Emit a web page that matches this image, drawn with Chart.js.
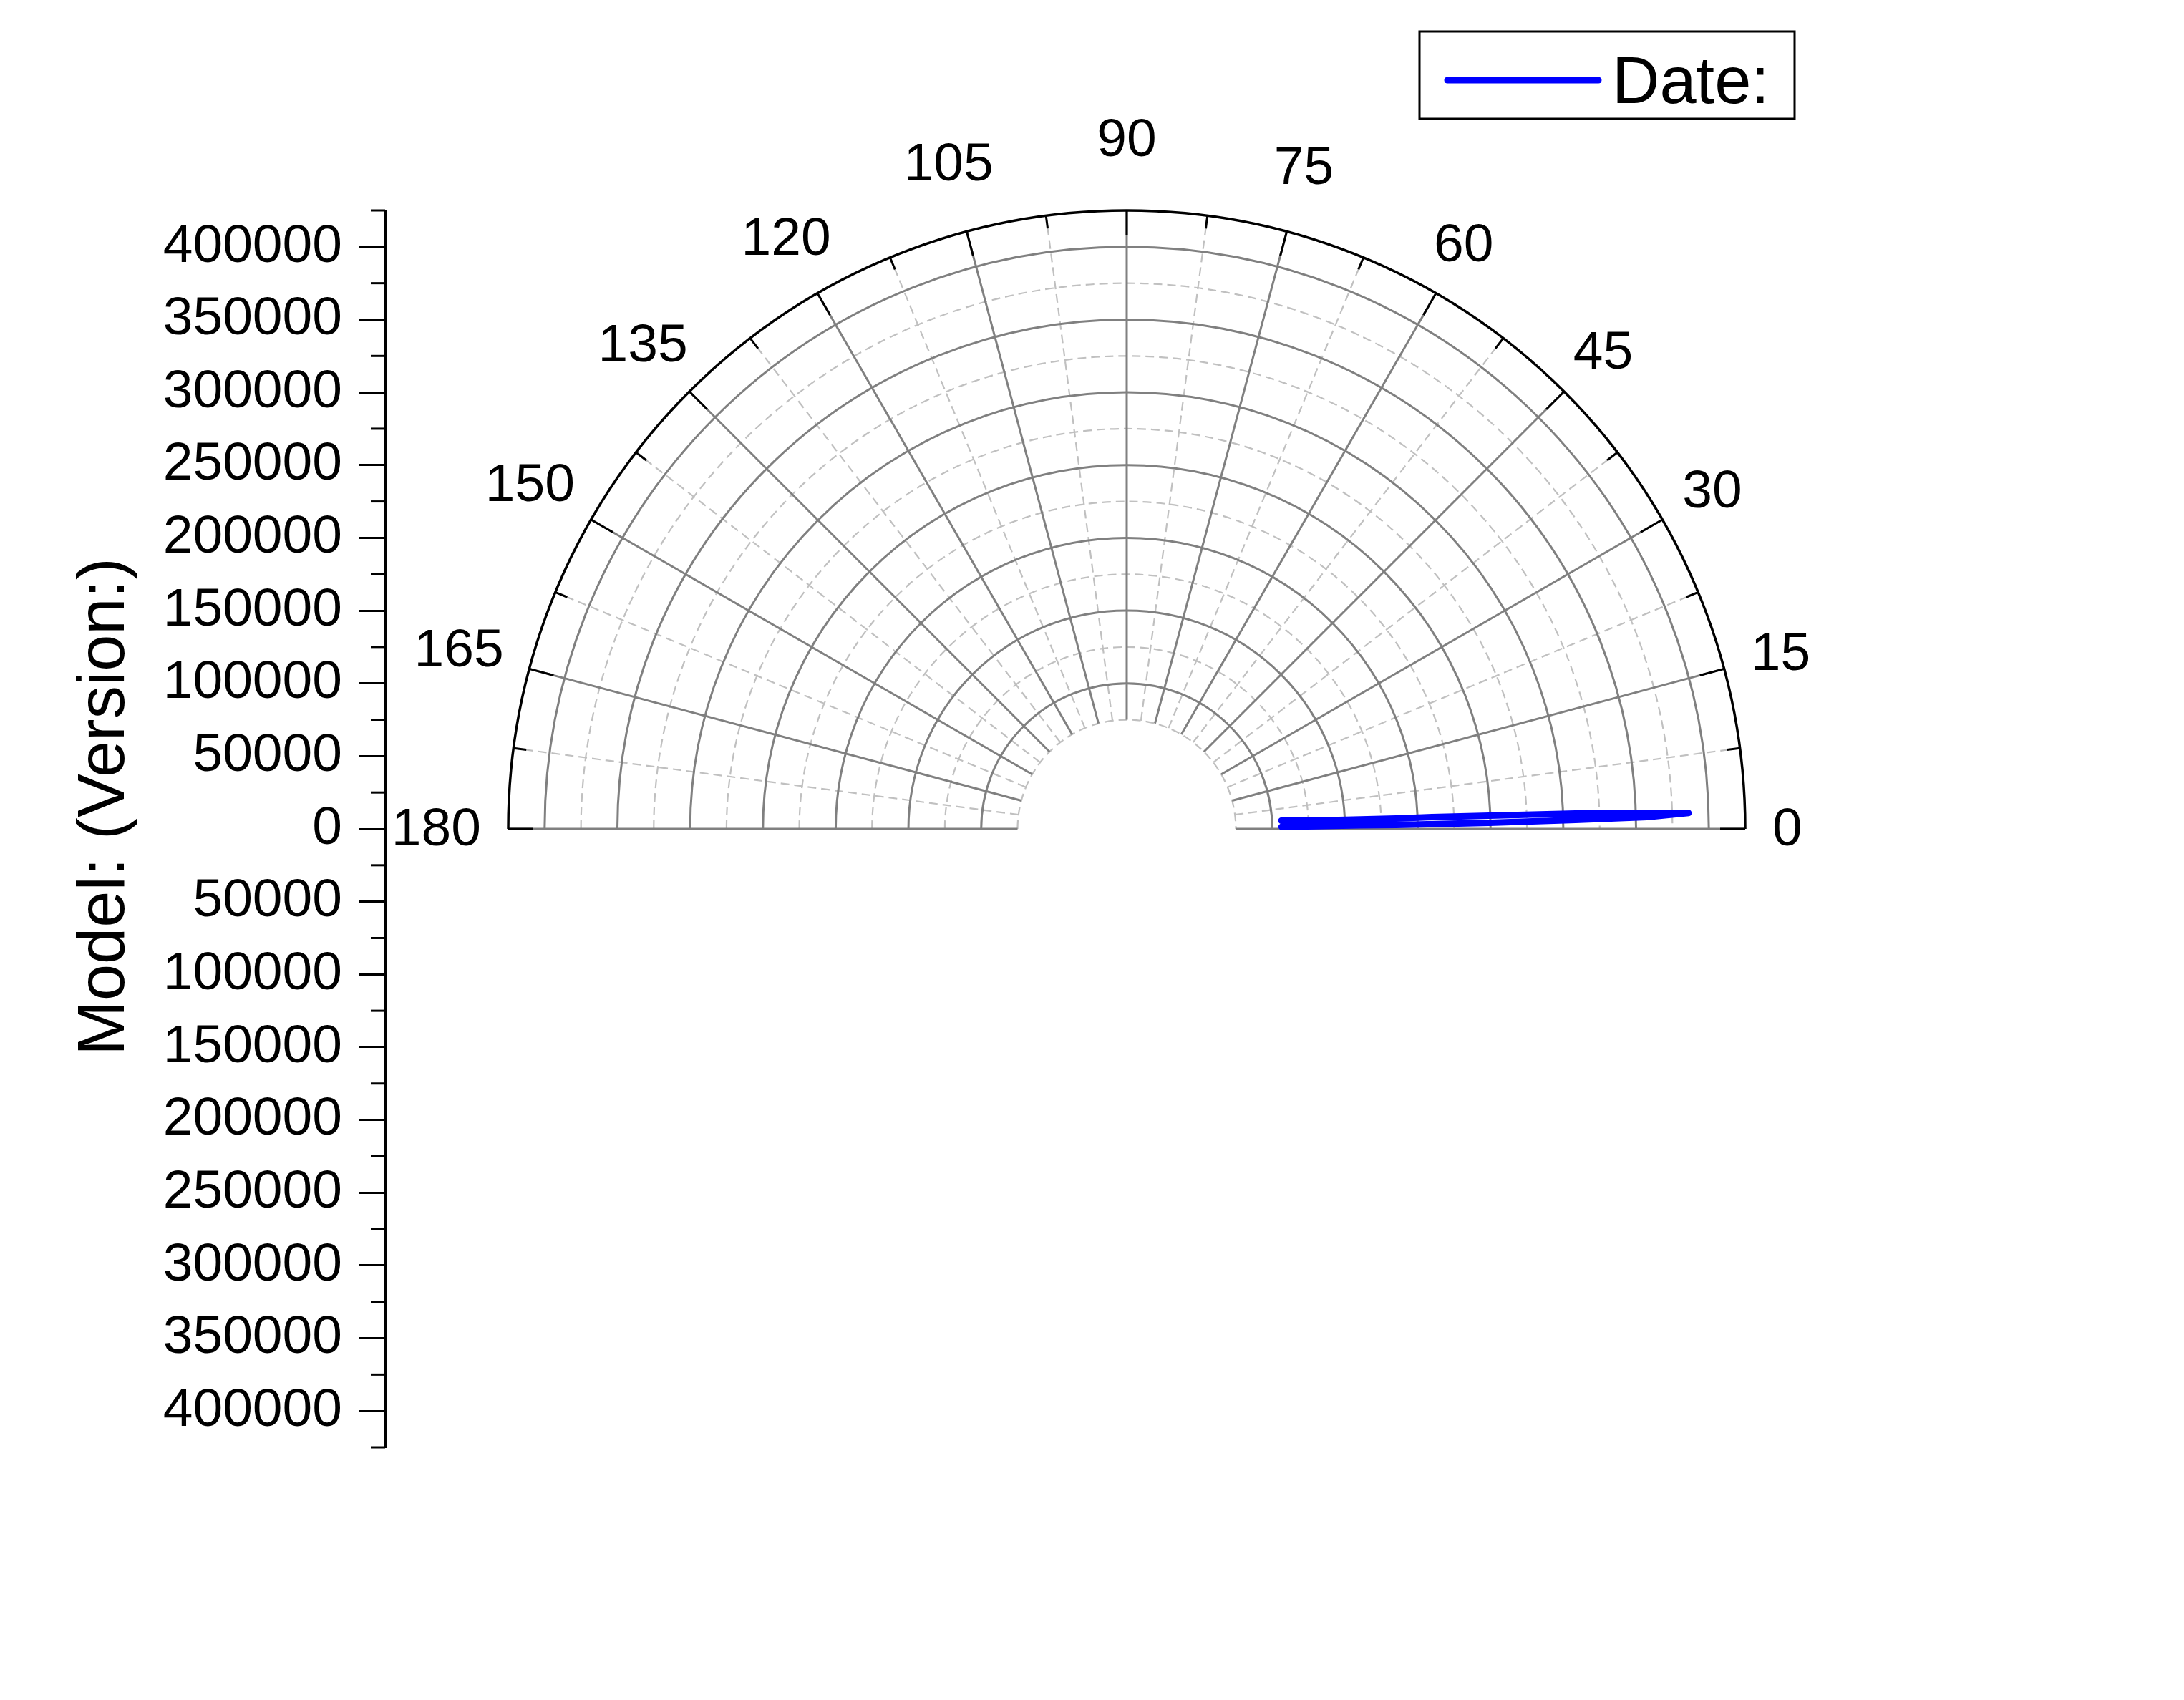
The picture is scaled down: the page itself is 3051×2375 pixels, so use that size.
<!DOCTYPE html>
<html>
<head>
<meta charset="utf-8">
<script src="https://cdn.jsdelivr.net/npm/chart.js@4.4.1/dist/chart.umd.min.js"></script>
<style>
html,body{margin:0;padding:0;background:#fff;}
#wrap{width:3051px;height:2375px;position:relative;}
</style>
</head>
<body>
<div id="wrap"><canvas id="c" width="3051" height="2375"></canvas></div>
<script>
// ---------------- data ----------------
const seriesName = 'Date:';
const yAxisTitle = 'Model: (Version:)';
// polar series: angle (degrees) and radius, in drawing order (out along upper strand, back along lower)
const sweepAngleDeg = [3.05, 2.49, 2.21, 2.22, 2.09, 1.97, 1.78, 1.63, 1.30, 1.14, 0.96, 0.84, 0.88, 0.83, 0.76];
const sweepRadius   = [106400, 136000, 185200, 209900, 249300, 308400, 357600, 386200, 357600, 308400, 249300, 185200, 160600, 136000, 106400];
// angular axis
const angleTicks = [0, 15, 30, 45, 60, 75, 90, 105, 120, 135, 150, 165, 180];
const angleMinorTicks = [7.5, 22.5, 37.5, 52.5, 67.5, 82.5, 97.5, 112.5, 127.5, 142.5, 157.5, 172.5];
// radial axis
const radialInner = 75000;
const radialOuter = 425000;
const radialMajor = [100000, 150000, 200000, 250000, 300000, 350000, 400000];
const radialMinor = [75000, 125000, 175000, 225000, 275000, 325000, 375000];
// left (vertical) axis ticks
const yTicks = [-400000, -350000, -300000, -250000, -200000, -150000, -100000, -50000, 0,
                50000, 100000, 150000, 200000, 250000, 300000, 350000, 400000];
const yMinorTicks = [-425000, -375000, -325000, -275000, -225000, -175000, -125000, -75000, -25000,
                     25000, 75000, 125000, 175000, 225000, 275000, 325000, 375000, 425000];

// ---------------- layout constants ----------------
const FONT = '"Liberation Sans", Arial, sans-serif';
const PAD = { left: 0, top: 294, right: 613, bottom: 353 };
const AXIS_BOX_W = 538;
const plotW = 3051 - PAD.right - AXIS_BOX_W;
const plotH = 2375 - PAD.top - PAD.bottom;
const xMinValue = radialOuter - (plotW / plotH) * 2 * radialOuter;

const points = sweepAngleDeg.map((a, i) => {
  const t = a * Math.PI / 180;
  return { x: sweepRadius[i] * Math.cos(t), y: sweepRadius[i] * Math.sin(t) };
});

const GRAY = '#808080';
const LIGHT = '#c0c0c0';

const polarGrid = {
  id: 'polarGrid',
  beforeDatasetsDraw(chart) {
    const xs = chart.scales.x, ys = chart.scales.y, ctx = chart.ctx;
    const cx = xs.getPixelForValue(0), cy = ys.getPixelForValue(0);
    const rp = v => xs.getPixelForValue(v) - cx;
    const rIn = rp(radialInner), rOut = rp(radialOuter);
    const pt = (r, deg) => {
      const t = deg * Math.PI / 180;
      return [cx + r * Math.cos(t), cy - r * Math.sin(t)];
    };
    ctx.save();
    ctx.lineCap = 'butt';
    // minor dashed rings and spokes
    ctx.strokeStyle = LIGHT; ctx.lineWidth = 2.2; ctx.setLineDash([12, 7]);
    radialMinor.forEach(v => {
      ctx.beginPath(); ctx.arc(cx, cy, rp(v), Math.PI, 2 * Math.PI); ctx.stroke();
    });
    angleMinorTicks.forEach(a => {
      const p1 = pt(rIn, a), p2 = pt(rOut, a);
      ctx.beginPath(); ctx.moveTo(p1[0], p1[1]); ctx.lineTo(p2[0], p2[1]); ctx.stroke();
    });
    // major solid rings and spokes
    ctx.setLineDash([]);
    ctx.strokeStyle = GRAY; ctx.lineWidth = 3;
    radialMajor.forEach(v => {
      ctx.beginPath(); ctx.arc(cx, cy, rp(v), Math.PI, 2 * Math.PI); ctx.stroke();
    });
    angleTicks.forEach(a => {
      const p1 = pt(rIn, a), p2 = pt(rOut, a);
      ctx.beginPath(); ctx.moveTo(p1[0], p1[1]); ctx.lineTo(p2[0], p2[1]); ctx.stroke();
    });
    // outer black arc with inward ticks
    ctx.strokeStyle = '#000'; ctx.lineWidth = 3.5;
    ctx.beginPath(); ctx.arc(cx, cy, rOut, Math.PI, 2 * Math.PI); ctx.stroke();
    ctx.lineWidth = 3;
    angleTicks.forEach(a => {
      const p1 = pt(rOut - 35, a), p2 = pt(rOut, a);
      ctx.beginPath(); ctx.moveTo(p1[0], p1[1]); ctx.lineTo(p2[0], p2[1]); ctx.stroke();
    });
    angleMinorTicks.forEach(a => {
      const p1 = pt(rOut - 18, a), p2 = pt(rOut, a);
      ctx.beginPath(); ctx.moveTo(p1[0], p1[1]); ctx.lineTo(p2[0], p2[1]); ctx.stroke();
    });
    ctx.restore();
  },
  afterDraw(chart) {
    const xs = chart.scales.x, ys = chart.scales.y, ctx = chart.ctx;
    const cx = xs.getPixelForValue(0), cy = ys.getPixelForValue(0);
    const rOut = xs.getPixelForValue(radialOuter) - cx;
    ctx.save();
    // angular labels
    const fs = 75;
    ctx.font = fs + 'px ' + FONT;
    ctx.fillStyle = '#000';
    ctx.textAlign = 'center';
    ctx.textBaseline = 'alphabetic';
    angleTicks.forEach(a => {
      const t = a * Math.PI / 180;
      const label = String(a);
      const w = ctx.measureText(label).width;
      const s = Math.sin(t), c = Math.abs(Math.cos(t));
      const R = rOut + 38 + c * w / 2 + s * (13 + 48 * Math.pow(s, 12));
      const x = cx + R * Math.cos(t);
      const y = cy - R * s - 4;
      ctx.fillText(label, x, y + 0.358 * fs);
    });
    // minor ticks of the left axis
    const axX = chart.chartArea.left;
    ctx.strokeStyle = '#000'; ctx.lineWidth = 3;
    yMinorTicks.forEach(v => {
      const y = ys.getPixelForValue(v);
      ctx.beginPath(); ctx.moveTo(axX - 20, y); ctx.lineTo(axX, y); ctx.stroke();
    });
    // y axis title
    ctx.save();
    ctx.translate(173, 1127);
    ctx.rotate(-Math.PI / 2);
    ctx.font = '92px ' + FONT;
    ctx.textAlign = 'center';
    ctx.textBaseline = 'alphabetic';
    ctx.fillText(yAxisTitle, 0, 0);
    ctx.restore();
    // legend
    ctx.lineWidth = 3; ctx.strokeStyle = '#000';
    ctx.strokeRect(1983, 44, 524, 122);
    ctx.strokeStyle = '#0000ff'; ctx.lineWidth = 9; ctx.lineCap = 'round';
    ctx.beginPath(); ctx.moveTo(2022, 112); ctx.lineTo(2233, 112); ctx.stroke();
    ctx.font = '92px ' + FONT;
    ctx.textAlign = 'left';
    ctx.fillStyle = '#000';
    ctx.fillText(chart.data.datasets[0].label, 2252, 144);
    ctx.restore();
  }
};

new Chart(document.getElementById('c').getContext('2d'), {
  type: 'scatter',
  data: {
    datasets: [{
      label: seriesName,
      data: points,
      showLine: true,
      borderColor: '#0000ff',
      backgroundColor: '#0000ff',
      borderWidth: 9,
      pointRadius: 0,
      pointHoverRadius: 0,
      borderCapStyle: 'round',
      borderJoinStyle: 'round',
      tension: 0,
      fill: false
    }]
  },
  options: {
    responsive: false,
    animation: false,
    devicePixelRatio: 1,
    layout: { padding: PAD },
    plugins: { legend: { display: false }, tooltip: { enabled: false } },
    scales: {
      x: { type: 'linear', display: false, min: xMinValue, max: radialOuter },
      y: {
        type: 'linear',
        position: 'left',
        min: -radialOuter,
        max: radialOuter,
        afterFit: s => { s.width = AXIS_BOX_W; },
        afterBuildTicks: s => { s.ticks = yTicks.map(v => ({ value: v })); },
        grid: { drawOnChartArea: false, drawTicks: true, tickLength: 36, tickWidth: 3, tickColor: '#000' },
        border: { display: true, color: '#000', width: 3 },
        ticks: {
          autoSkip: false,
          color: '#000',
          font: { family: FONT, size: 75 },
          padding: 24,
          labelOffset: 0,
          callback: v => String(Math.abs(v))
        }
      }
    }
  },
  plugins: [polarGrid]
});
</script>
</body>
</html>
